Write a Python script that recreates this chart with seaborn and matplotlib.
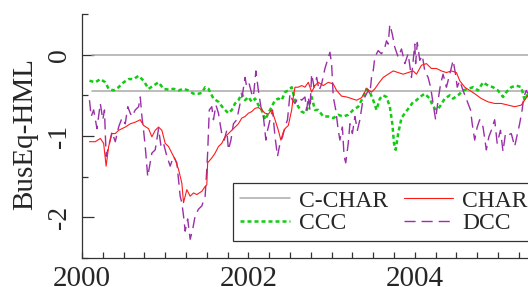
import numpy as np
import pandas as pd
import matplotlib as mpl
import matplotlib.pyplot as plt
import seaborn as sns

mpl.use('Agg')

# series (fractional year, BusEq-HML correlation)
char_year = [2000.09, 2000.16, 2000.22, 2000.26, 2000.29, 2000.32, 2000.36, 2000.40, 2000.44, 2000.48,
             2000.52, 2000.58, 2000.64, 2000.70, 2000.74, 2000.80, 2000.84, 2000.88, 2000.92, 2000.96,
             2001.00, 2001.04, 2001.08, 2001.12, 2001.16, 2001.20, 2001.22, 2001.26, 2001.30, 2001.34,
             2001.38, 2001.44, 2001.48, 2001.50, 2001.51, 2001.56, 2001.60, 2001.64, 2001.68, 2001.72,
             2001.76, 2001.80, 2001.84, 2001.88, 2001.92, 2001.96, 2002.00, 2002.04, 2002.08, 2002.12,
             2002.16, 2002.20, 2002.24, 2002.28, 2002.32, 2002.36, 2002.39, 2002.42, 2002.44, 2002.48,
             2002.52, 2002.54, 2002.56, 2002.60, 2002.64, 2002.68, 2002.72, 2002.76, 2002.80, 2002.84,
             2002.90, 2002.96, 2003.02, 2003.06, 2003.12, 2003.18, 2003.24, 2003.30, 2003.36, 2003.42,
             2003.48, 2003.52, 2003.56, 2003.62, 2003.68, 2003.74, 2003.80, 2003.86, 2003.92, 2003.98,
             2004.02, 2004.08, 2004.14, 2004.20, 2004.26, 2004.32, 2004.38, 2004.44, 2004.50, 2004.54,
             2004.60, 2004.66, 2004.72, 2004.80, 2004.88, 2004.96, 2005.04, 2005.12, 2005.20, 2005.28,
             2005.32, 2005.36]
char_val = [-1.07, -1.07, -1.03, -1.09, -1.37, -1.13, -0.97, -0.97, -0.93, -0.91,
            -0.89, -0.85, -0.83, -0.80, -0.87, -0.91, -1.01, -0.93, -0.89, -0.93,
            -1.09, -1.13, -1.21, -1.29, -1.41, -1.58, -1.82, -1.66, -1.74, -1.70,
            -1.72, -1.68, -1.62, -1.60, -1.33, -1.27, -1.21, -1.13, -1.09, -1.01,
            -0.97, -0.93, -0.89, -0.85, -0.78, -0.76, -0.72, -0.70, -0.66, -0.65,
            -0.68, -0.72, -0.73, -0.68, -0.80, -0.93, -1.05, -0.95, -0.91, -0.87,
            -0.68, -0.52, -0.40, -0.40, -0.38, -0.40, -0.34, -0.46, -0.38, -0.34,
            -0.38, -0.34, -0.36, -0.44, -0.51, -0.52, -0.54, -0.56, -0.53, -0.42,
            -0.46, -0.42, -0.36, -0.28, -0.24, -0.20, -0.22, -0.24, -0.22, -0.20,
            -0.24, -0.13, -0.11, -0.17, -0.17, -0.20, -0.22, -0.20, -0.22, -0.32,
            -0.40, -0.44, -0.48, -0.54, -0.58, -0.60, -0.60, -0.62, -0.64, -0.62,
            -0.56, -0.50]

ccc_year = [2000.09, 2000.16, 2000.22, 2000.28, 2000.32, 2000.38, 2000.44, 2000.50, 2000.56, 2000.62,
            2000.68, 2000.74, 2000.80, 2000.86, 2000.92, 2000.98, 2001.04, 2001.10, 2001.16, 2001.22,
            2001.28, 2001.34, 2001.40, 2001.44, 2001.48, 2001.52, 2001.58, 2001.64, 2001.70, 2001.76,
            2001.80, 2001.84, 2001.88, 2001.92, 2001.96, 2002.00, 2002.04, 2002.08, 2002.12, 2002.16,
            2002.20, 2002.24, 2002.28, 2002.32, 2002.36, 2002.40, 2002.44, 2002.48, 2002.52, 2002.56,
            2002.60, 2002.64, 2002.68, 2002.72, 2002.76, 2002.80, 2002.84, 2002.90, 2002.96, 2003.02,
            2003.08, 2003.14, 2003.20, 2003.26, 2003.32, 2003.38, 2003.42, 2003.46, 2003.50, 2003.54,
            2003.58, 2003.62, 2003.66, 2003.70, 2003.73, 2003.75, 2003.77, 2003.80, 2003.84, 2003.88,
            2003.94, 2003.98, 2004.02, 2004.06, 2004.12, 2004.18, 2004.22, 2004.26, 2004.30, 2004.36,
            2004.42, 2004.46, 2004.52, 2004.58, 2004.64, 2004.70, 2004.76, 2004.82, 2004.88, 2004.94,
            2005.00, 2005.06, 2005.10, 2005.16, 2005.22, 2005.28, 2005.32, 2005.36]
ccc_val = [-0.32, -0.34, -0.30, -0.34, -0.42, -0.44, -0.40, -0.34, -0.30, -0.30,
           -0.26, -0.32, -0.42, -0.38, -0.34, -0.42, -0.43, -0.42, -0.44, -0.42,
           -0.44, -0.48, -0.48, -0.47, -0.40, -0.42, -0.54, -0.58, -0.66, -0.72,
           -0.68, -0.60, -0.56, -0.48, -0.56, -0.52, -0.58, -0.54, -0.62, -0.68,
           -0.80, -0.72, -0.64, -0.56, -0.54, -0.56, -0.46, -0.44, -0.40, -0.56,
           -0.64, -0.70, -0.72, -0.64, -0.52, -0.68, -0.68, -0.76, -0.76, -0.78,
           -0.74, -0.76, -0.74, -0.68, -0.64, -0.52, -0.42, -0.46, -0.56, -0.68,
           -0.54, -0.50, -0.52, -0.64, -0.85, -1.09, -1.17, -0.97, -0.78, -0.72,
           -0.64, -0.58, -0.56, -0.52, -0.48, -0.54, -0.64, -0.68, -0.64, -0.54,
           -0.50, -0.54, -0.50, -0.44, -0.42, -0.40, -0.44, -0.34, -0.38, -0.40,
           -0.44, -0.52, -0.46, -0.40, -0.38, -0.40, -0.56, -0.48]

dcc_year = [2000.09, 2000.11, 2000.14, 2000.18, 2000.22, 2000.25, 2000.27, 2000.29, 2000.32, 2000.36,
            2000.40, 2000.44, 2000.48, 2000.52, 2000.55, 2000.58, 2000.60, 2000.64, 2000.68, 2000.70,
            2000.72, 2000.74, 2000.76, 2000.79, 2000.82, 2000.84, 2000.88, 2000.92, 2000.95, 2000.98,
            2001.02, 2001.06, 2001.10, 2001.14, 2001.18, 2001.20, 2001.22, 2001.24, 2001.27, 2001.30,
            2001.33, 2001.36, 2001.40, 2001.44, 2001.48, 2001.50, 2001.51, 2001.53, 2001.56, 2001.58,
            2001.61, 2001.64, 2001.66, 2001.68, 2001.71, 2001.74, 2001.76, 2001.79, 2001.82, 2001.86,
            2001.90, 2001.93, 2001.96, 2001.98, 2002.01, 2002.04, 2002.06, 2002.09, 2002.12, 2002.15,
            2002.18, 2002.21, 2002.23, 2002.26, 2002.29, 2002.32, 2002.35, 2002.38, 2002.41, 2002.44,
            2002.47, 2002.50, 2002.53, 2002.56, 2002.60, 2002.64, 2002.68, 2002.70, 2002.72, 2002.74,
            2002.76, 2002.79, 2002.82, 2002.85, 2002.88, 2002.92, 2002.95, 2002.98, 2003.00, 2003.02,
            2003.05, 2003.08, 2003.10, 2003.13, 2003.15, 2003.17, 2003.20, 2003.22, 2003.25, 2003.28,
            2003.31, 2003.34, 2003.37, 2003.40, 2003.44, 2003.46, 2003.48, 2003.50, 2003.52, 2003.56,
            2003.60, 2003.64, 2003.66, 2003.68, 2003.70, 2003.73, 2003.76, 2003.80, 2003.84, 2003.88,
            2003.92, 2003.96, 2004.00, 2004.01, 2004.03, 2004.06, 2004.09, 2004.12, 2004.16, 2004.19,
            2004.22, 2004.25, 2004.28, 2004.31, 2004.34, 2004.38, 2004.40, 2004.43, 2004.46, 2004.49,
            2004.51, 2004.54, 2004.58, 2004.61, 2004.64, 2004.67, 2004.69, 2004.72, 2004.75, 2004.78,
            2004.82, 2004.86, 2004.89, 2004.92, 2004.96, 2004.99, 2005.03, 2005.06, 2005.09, 2005.12,
            2005.16, 2005.20, 2005.23, 2005.26, 2005.29, 2005.31, 2005.34, 2005.36]
dcc_val = [-0.56, -0.76, -0.68, -0.91, -0.60, -0.80, -0.68, -1.25, -1.13, -0.95,
           -1.07, -0.89, -0.78, -0.85, -0.64, -0.72, -0.76, -0.68, -0.64, -0.52,
           -0.76, -0.93, -1.13, -1.50, -1.33, -1.21, -1.17, -0.91, -1.13, -1.09,
           -1.25, -1.37, -1.25, -1.33, -1.74, -1.82, -1.98, -2.17, -2.02, -2.27,
           -2.15, -1.98, -1.90, -1.86, -1.74, -1.41, -1.21, -0.68, -0.64, -0.80,
           -0.62, -0.72, -0.85, -0.97, -1.05, -0.93, -1.17, -1.05, -0.85, -0.80,
           -0.60, -0.48, -0.28, -0.40, -0.36, -0.48, -0.52, -0.20, -0.44, -0.64,
           -0.76, -1.05, -0.93, -0.80, -0.68, -1.01, -1.25, -1.09, -1.01, -0.89,
           -0.80, -0.48, -0.56, -0.60, -0.52, -0.56, -0.52, -0.68, -0.52, -0.68,
           -0.24, -0.40, -0.28, -0.44, -0.36, -0.17, -0.07, 0.03, -0.11, -0.52,
           -0.68, -0.93, -1.05, -0.89, -1.25, -1.33, -1.09, -0.85, -0.97, -0.76,
           -0.93, -0.80, -0.60, -0.52, -0.44, -0.48, -0.28, -0.20, -0.03, 0.05,
           0.01, 0.09, 0.17, 0.13, 0.37, 0.25, 0.09, -0.03, 0.07, -0.11,
           0.01, -0.28, 0.13, -0.11, 0.15, -0.07, -0.01, -0.20, -0.28, -0.40,
           -0.60, -0.80, -0.56, -0.36, -0.24, -0.40, -0.32, -0.20, -0.07, -0.24,
           -0.40, -0.32, -0.44, -0.52, -0.60, -0.68, -0.85, -1.05, -0.89, -0.80,
           -0.89, -1.17, -1.01, -0.93, -0.80, -1.09, -0.93, -1.19, -0.97, -0.99,
           -0.97, -1.13, -0.99, -0.85, -0.68, -0.52, -0.44, -0.48]

# constant correlation model and zero reference
cchar_year = [2000.12, 2005.40]
cchar_val = [-0.45, -0.45]
zero_year = [2000.12, 2005.40]
zero_val = [0.0, 0.0]

year_ticks = [2000, 2002, 2004]

sns.set_style("ticks")
plt.rcParams['font.family'] = ['Liberation Serif', 'DejaVu Serif']

fig = plt.figure(figsize=(5.28, 2.87), dpi=100)
ax = fig.add_axes([82 / 528, 1 - 258 / 287, 446 / 528, 244 / 287])

grey = '#a9a9a9'
kw = dict(ax=ax, sort=False, estimator=None)
sns.lineplot(x=zero_year, y=zero_val, color=grey, linewidth=1.1, **kw)
sns.lineplot(x=cchar_year, y=cchar_val, color=grey, linewidth=1.1, label='C-CHAR', **kw)
sns.lineplot(x=ccc_year, y=ccc_val, color='#11cc11', linewidth=1.8,
             linestyle=(0, (1.6, 1.2)), label='CCC', **kw)
sns.lineplot(x=dcc_year, y=dcc_val, color='#9a2fa8', linewidth=1.0,
             linestyle=(0, (8.0, 4.3)), label='DCC', **kw)
sns.lineplot(x=char_year, y=char_val, color='#ff1a1a', linewidth=0.8, label='CHAR', **kw)

ax.set_xlim(2000, 2000 + 446 / 83.2)
ax.set_ylim(-2.5, 0.5)

for s in ['top', 'right']:
    ax.spines[s].set_visible(False)
for s in ['left', 'bottom']:
    ax.spines[s].set_color('#333333')
    ax.spines[s].set_linewidth(0.9)

ax.set_xticks(year_ticks)
ax.set_xticklabels([str(y) for y in year_ticks])
ax.set_xticks(np.arange(2000, 2005.5, 0.25), minor=True)
ax.set_yticks([-2, -1, 0])
ax.set_yticklabels(['-2', '-1', '0'], rotation=90, va='center')
ax.set_yticks([-2.5, -1.5, -0.5, 0.5], minor=True)

ax.tick_params(axis='x', which='both', direction='in', length=4.3, width=0.9,
               color='#333333', labelsize=21, pad=6)
ax.tick_params(axis='y', which='major', direction='in', length=8.5, width=0.9,
               color='#333333', labelsize=20, pad=7)
ax.tick_params(axis='y', which='minor', direction='in', length=4.3, width=0.9,
               color='#333333')

ax.set_xlabel('')
ax.set_ylabel('')
fig.text(25 / 528, 1 - 134 / 287, 'BusEq-HML', rotation=90, ha='center', va='center',
         fontsize=21)

handles, labels = ax.get_legend_handles_labels()
order = [labels.index(n) for n in ['C-CHAR', 'CCC', 'CHAR', 'DCC']]
leg = ax.legend([handles[i] for i in order], [labels[i] for i in order], ncol=2,
                loc='upper left', bbox_to_anchor=(233 / 528, 1 - 183 / 287),
                bbox_transform=fig.transFigure, borderaxespad=0, fontsize=17,
                handlelength=2.1, handletextpad=0.38, columnspacing=0.68,
                labelspacing=0.05, borderpad=0.3, fancybox=False, framealpha=1)
leg.get_frame().set_edgecolor('#333333')
leg.get_frame().set_linewidth(0.9)

fig.savefig('out.png', dpi=100)
